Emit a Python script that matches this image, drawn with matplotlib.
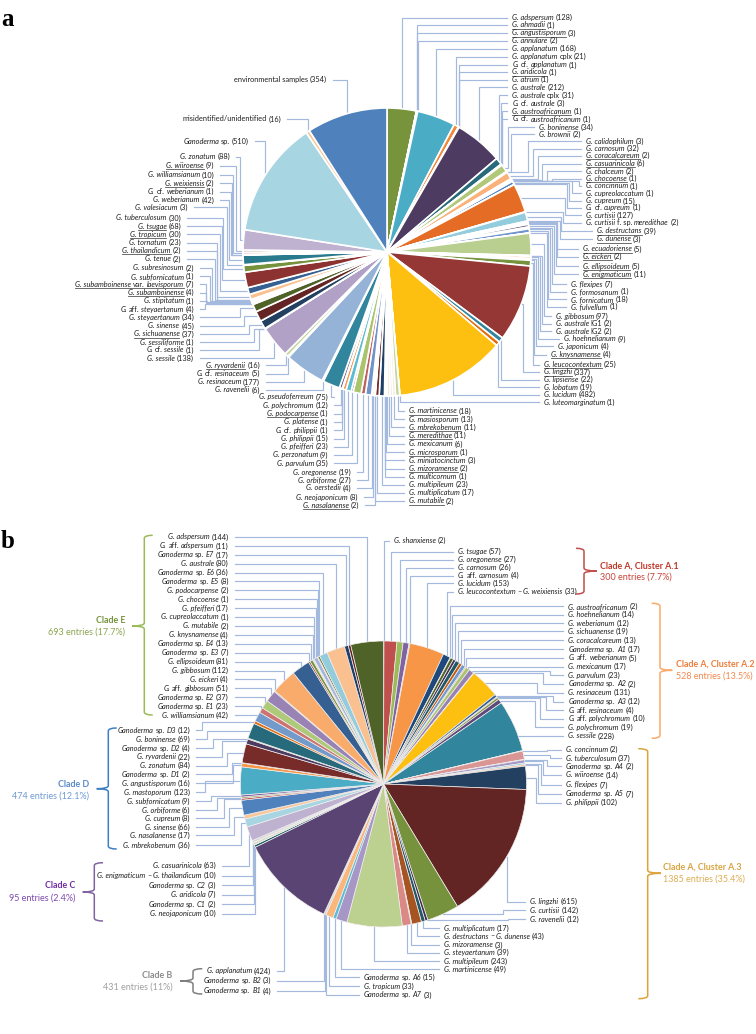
import matplotlib
matplotlib.use("Agg")
import matplotlib.pyplot as plt
import numpy as np
from matplotlib.path import Path
from matplotlib.patches import PathPatch

W, H = 756, 1034
# ---------------- DATA: panel a ----------------
names_a = ["G. adspersum","G. ahmadii","G. angustisporum","G. annulare","G. applanatum","G. applanatum cplx","G. cf. applanatum","G. aridicola","G. atrum","G. australe","G. australe cplx","G. cf. australe","G. austroafricanum","G. cf. austroafricanum",
"G. boninense","G. brownii","G. calidophilum","G. carnosum","G. coracalcareum","G. casuarinicola","G. chalceum","G. chocoense","G. concinnum","G. cupreolaccatum","G. cupreum","G. cf. cupreum","G. curtisii","G. curtisii f. sp. meredithae",
"G. destructans","G. dunense","G. ecuadoriense","G. eickeri","G. ellipsoideum","G. enigmaticum","G. flexipes","G. formosanum","G. fornicatum","G. fulvellum","G. gibbosum","G. australe IG1","G. australe IG2","G. hoehnelianum","G. japonicum","G. knysnamense",
"G. leucocontextum","G. lingzhi","G. lipsiense","G. lobatum","G. lucidum","G. luteomarginatum","G. martinicense","G. masiosporum","G. mbrekobenum","G. meredithae","G. mexicanum","G. microsporum","G. miniatocinctum","G. mizoramense","G. multicornum","G. multipileum","G. multiplicatum","G. mutabile",
"G. nasalanense","G. neojaponicum","G. oerstedii","G. orbiforme","G. oregonense","G. parvulum","G. perzonatum","G. pfeifferi","G. philippii","G. cf. philippii","G. platense","G. podocarpense","G. polychromum","G. pseudoferreum",
"G. ravenelii","G. resinaceum","G. cf. resinaceum","G. ryvardenii","G. sessile","G. cf. sessile","G. sessiliforme","G. sichuanense","G. sinense","G. steyaertanum","G. aff. steyaertanum","G. stipitatum","G. subamboinense","G. subamboinense var. laevisporum","G. subfornicatum","G. subresinosum",
"G. tenue","G. thailandicum","G. tornatum","G. tropicum","G. tsugae","G. tuberculosum","G. valesiacum","G. weberianum","G. cf. weberianum","G. weixiensis","G. williamsianum","G. wiiroense","G. zonatum","Ganoderma sp.","misidentified/unidentified","environmental samples"]
counts_a = [128,1,3,2,168,21,1,1,1,212,31,3,1,1,34,2,3,32,2,6,2,1,1,1,15,1,127,2,39,3,5,2,5,11,7,1,18,1,97,2,2,9,4,4,25,337,22,19,482,1,18,13,11,11,6,1,3,2,1,23,17,2,
2,8,4,27,19,35,9,23,15,1,1,1,12,75,6,177,5,16,138,1,1,37,45,34,4,1,4,7,1,2,2,2,23,30,68,30,3,42,1,2,10,9,88,510,16,354]
underlined_a = {"G. ahmadii","G. angustisporum","G. aridicola","G. austroafricanum","G. coracalcareum","G. casuarinicola","G. chocoense","G. destructans","G. dunense","G. ecuadoriense","G. eickeri","G. ellipsoideum","G. enigmaticum","G. knysnamense","G. leucocontextum","G. lingzhi","G. martinicense","G. mbrekobenum","G. meredithae","G. microsporum","G. mizoramense","G. mutabile","G. nasalanense","G. podocarpense","G. ryvardenii","G. sichuanense","G. subamboinense var. laevisporum","G. subamboinense","G. thailandicum","G. tropicum","G. tsugae","G. weixiensis","G. wiiroense"}
# ---------------- DATA: panel b ----------------
names_b = ["G. shanxiense","G. tsugae","G. oregonense","G. carnosum","G. aff. carnosum","G. lucidum","G. leucocontextum – G. weixiensis",
"G. austroafricanum","G. hoehnelianum","G. weberianum","G. sichuanense","G. coracalcareum","Ganoderma sp. A1","G. aff. weberianum","G. mexicanum","G. parvulum","Ganoderma sp. A2","G. resinaceum","Ganoderma sp. A3","G. aff. resinaceum","G. aff. polychromum","G. polychromum","G. sessile",
"G. concinnum","G. tuberculosum","Ganoderma sp. A4","G. wiiroense","G. flexipes","Ganoderma sp. A5","G. philippii","G. lingzhi","G. curtisii","G. ravenelii","G. multiplicatum","G. destructans – G. dunense","G. mizoramense","G. steyaertanum","G. multipileum","G. martinicense","Ganoderma sp. A6","G. tropicum","Ganoderma sp. A7",
"Ganoderma sp. B1","Ganoderma sp. B2","G. applanatum",
"G. neojaponicum","Ganoderma sp. C1","G. aridicola","Ganoderma sp. C2","G. enigmaticum – G. thailandicum","G. casuarinicola",
"G. mbrekobenum","G. nasalanense","G. sinense","G. cupreum","G. orbiforme","G. subfornicatum","G. mastoporum","G. angustisporum","Ganoderma sp. D1","G. zonatum","G. ryvardenii","Ganoderma sp. D2","G. boninense","Ganoderma sp. D3",
"G. williamsianum","Ganoderma sp. E1","Ganoderma sp. E2","G. aff. gibbosum","G. eickeri","G. gibbosum","G. ellipsoideum","Ganoderma sp. E3","Ganoderma sp. E4","G. knysnamense","G. mutabile","G. cupreolaccatum","G. pfeifferi","G. chocoense","G. podocarpense","Ganoderma sp. E5","Ganoderma sp. E6","G. australe","Ganoderma sp. E7","G. aff. adspersum","G. adspersum"]
counts_b = [2,57,27,26,4,153,33,2,14,12,19,13,17,5,17,23,2,131,12,4,10,19,228,2,37,2,14,7,7,102,615,142,12,17,43,3,39,243,49,15,33,3,4,3,424,10,2,7,3,10,63,36,17,66,8,6,9,123,16,2,84,22,4,69,12,42,23,37,51,4,112,81,7,13,4,2,1,17,1,2,8,36,80,17,11,144]
clade_titles = ["Clade A, Cluster A.1","Clade A, Cluster A.2","Clade A, Cluster A.3","Clade B","Clade C","Clade D","Clade E"]
clade_notes = ["300 entries (7.7%)","528 entries (13.5%)","1385 entries (35.4%)","431 entries (11%)","95 entries (2.4%)","474 entries (12.1%)","693 entries (17.7%)"]

# ---------------- STYLE / LAYOUT ----------------
palette = ["#4f81bd","#c0504d","#9bbb59","#8064a2","#4bacc6","#f79646","#2c4d75","#772c2a","#5f7530","#4d3b62","#276a7c","#b65708"]
colors_a = {"G. adspersum":"#77933c","G. applanatum":"#4bacc6","G. applanatum cplx":"#f0883a","G. australe":"#4d3b62","G. australe cplx":"#276a7c","G. boninense":"#b0c878","G. carnosum":"#fab27a","G. casuarinicola":"#8eb4e3","G. curtisii":"#e46c25","G. destructans":"#93cddd","G. ecuadoriense":"#403152","G. fornicatum":"#7094cd","G. gibbosum":"#b9cf8f","G. leucocontextum":"#76923c","G. lingzhi":"#953735","G. lipsiense":"#31859c","G. lobatum":"#e46c0a","G. lucidum":"#fdc010","G. martinicense":"#c3d69b","G. masiosporum":"#fde9d9","G. mbrekobenum":"#dbe5f1","G. meredithae":"#fcd5b4","G. mexicanum":"#ccc1da","G. multipileum":"#1f3f66","G. multiplicatum":"#772c2a","G. orbiforme":"#7094c9","G. oregonense":"#c0605c","G. parvulum":"#a9c46c","G. perzonatum":"#60497a","G. pfeifferi":"#5dbbd2","G. philippii":"#f79646","G. polychromum":"#60497a","G. pseudoferreum":"#31859c","G. resinaceum":"#95b3d7","G. ryvardenii":"#c3d69b","G. sessile":"#b2a1c7","G. sichuanense":"#244061","G. sinense":"#632423","G. steyaertanum":"#4f6228","G. tornatum":"#fac090","G. tropicum":"#366092","G. tsugae":"#8c3331","G. tuberculosum":"#76923c","G. weberianum":"#2a7a8e","G. williamsianum":"#e6b9b8","G. zonatum":"#bfb1d0","Ganoderma sp.":"#a8d5e2","misidentified/unidentified":"#fac79a","environmental samples":"#4f81bd"}
colors_b = {"G. shanxiense":"#4f81bd","G. tsugae":"#c0504d","G. oregonense":"#9bbb59","G. carnosum":"#8064a2","G. aff. carnosum":"#4bacc6","G. lucidum":"#f79646","G. leucocontextum – G. weixiensis":"#1f497d","G. hoehnelianum":"#4f6228","G. weberianum":"#403152","G. sichuanense":"#215968","G. coracalcareum":"#c55a11","Ganoderma sp. A1":"#6f9bd1","G. aff. weberianum":"#cd7371","G. mexicanum":"#a9c46c","G. parvulum":"#9782b3","G. resinaceum":"#fdbf10","Ganoderma sp. A3":"#366092","G. aff. polychromum":"#76923c","G. polychromum":"#60497a","G. sessile":"#31859c","G. tuberculosum":"#d99694","G. wiiroense":"#a698c4","G. flexipes":"#93cddd","Ganoderma sp. A5":"#fac090","G. philippii":"#244061","G. lingzhi":"#632523","G. curtisii":"#76923c","G. ravenelii":"#403152","G. multiplicatum":"#215968","G. destructans – G. dunense":"#a65422","G. steyaertanum":"#da8987","G. multipileum":"#bcd08f","G. martinicense":"#a697c6","Ganoderma sp. A6":"#5ebdd3","G. tropicum":"#fbb67a","G. applanatum":"#5a4474","G. neojaponicum":"#215968","G. aridicola":"#c3d69b","G. enigmaticum – G. thailandicum":"#d9d9d9","G. casuarinicola":"#bfb1d0","G. mbrekobenum":"#a8d5e2","G. nasalanense":"#fac79a","G. sinense":"#4f81bd","G. cupreum":"#c0504d","G. orbiforme":"#76923c","G. subfornicatum":"#8064a2","G. mastoporum":"#4bacc6","G. angustisporum":"#f79646","G. zonatum":"#772c2a","G. ryvardenii":"#4d3b62","G. boninense":"#276a7c","Ganoderma sp. D3":"#e46c0a","G. williamsianum":"#729aca","Ganoderma sp. E1":"#cd7371","Ganoderma sp. E2":"#afc97a","G. aff. gibbosum":"#9983b5","G. gibbosum":"#f9ab6b","G. ellipsoideum":"#366092","Ganoderma sp. E3":"#953735","Ganoderma sp. E4":"#76923c","G. pfeifferi":"#a4b6db","Ganoderma sp. E6":"#93cddd","G. australe":"#fac090","Ganoderma sp. E7":"#1f3f66","G. aff. adspersum":"#632423","G. adspersum":"#4f6228"}

label_x_a = [512.3]*14+[539]*2+[586]*12+[597.3]*2+[583.3]*4+[571.3]*4+[555.7]*3+[564,558.3,551]+[544]*6+[409]*12+[359,358]+[351.3]*3+[328.3]*9+[260]*4+[194]*12+[181]*6+[188]+[214.3]*5+[230,249,281,327]
label_y_a = [17.5,25,33,40.7,48.7,56.7,65,72,79.7,87.3,95.3,103.3,111,119,127.3,134.3,141.3,148.7,155.7,163.7,171.3,178.7,186,193.3,201,207.7,215.3,222.7,231,239,249,256.7,266.3,274.3,284.3,291.7,299.3,306.7,316.3,323.7,331.3,339,346.3,354.7,364.7,372,379.7,387.3,394.7,402.3,411,419.3,427.3,435.7,444,452.3,460.3,468.7,476.7,484.7,492.7,501,
505.3,497.3,488,480,472.3,463.3,455,446.7,438.7,430.3,422,413.7,405.3,397,390,382,373.7,365.3,358.3,350,342,334,326,317.3,309.3,301,292.7,284.3,276.3,268,259,250.7,242.7,234.3,226.3,218,207.3,200,191.7,183.3,175,165.7,156.7,141.3,119,79.7]
side_a = ["l"]*62+["r"]*46
elbow_a = {"G. boninense":508,"G. brownii":510.7,"G. calidophilum":528,"G. carnosum":533,"G. coracalcareum":537.5,"G. casuarinicola":542,"G. chalceum":547,"G. chocoense":551.5,"G. concinnum":579,"G. cupreolaccatum":572,"G. cupreum":569,"G. cf. cupreum":567,"G. curtisii":565,"G. curtisii f. sp. meredithae":562.7,"G. destructans":561,"G. dunense":560,"G. ecuadoriense":557.3,"G. eickeri":556.7,"G. ellipsoideum":555.7,"G. enigmaticum":554,"G. flexipes":552.3,"G. formosanum":550.3,"G. fornicatum":548.3,"G. fulvellum":546.7,"G. gibbosum":544.3,"G. australe IG1":542,"G. australe IG2":540.3,"G. hoehnelianum":538.3,"G. japonicum":536,"G. knysnamense":534,"G. leucocontextum":533.3,"G. lingzhi":522.7,
"G. cf. sessile":259,"G. sessiliforme":254,"G. sichuanense":249,"G. sinense":244,"G. steyaertanum":240,"G. aff. steyaertanum":205,"G. stipitatum":207,"G. subamboinense":206,"G. subamboinense var. laevisporum":205.5,"G. subfornicatum":210,"G. subresinosum":212,"G. tenue":215,"G. thailandicum":216.7,"G. tornatum":217,"G. tropicum":219.7,"G. tsugae":221.7,"G. tuberculosum":223,"G. valesiacum":226.7,"G. weberianum":228.7,"G. cf. weberianum":230.7,"G. weixiensis":232,"G. williamsianum":233,"G. wiiroense":235.7,"G. zonatum":240}

label_x_b = [394.3]+[458]*6+[568.3]*16+[566]*7+[530.3]*3+[444]*6+[364]*3+[271.3]*3+[216]*6+[190.3]*14+[228.7]*21
label_y_b = [540.7,551.7,559.7,567.7,575.7,583.3,591.7,606.3,614.7,623.3,631.3,640.3,649.3,658,666.7,675.3,684,692.7,701.7,710.3,718.7,727.3,736,749.7,758.3,766.3,775,785,794,802.7,901.7,910.3,919.3,928.3,936.3,945,952.7,961.3,969.3,977.3,986.3,995,991,980.7,971,913.7,904.3,894.7,885.3,875.7,865.7,
845.3,835.3,827.3,818.3,810,801,792.3,783.3,774.3,765.7,757,748.3,739.3,730.3,715.3,706.3,697.3,688.3,679.3,670.7,661.7,652.7,643.7,635,626,617,608.3,599.3,590.3,581.3,572.7,563.7,555,546,537]
side_b = ["l"]*42+["r"]*44
elbow_b = {"G. parvulum":550,"Ganoderma sp. A2":543.3,"G. resinaceum":537.3,"Ganoderma sp. A3":553.3,"G. aff. resinaceum":545.7,"G. aff. polychromum":540.3,"G. polychromum":535,"G. concinnum":546.7,"G. tuberculosum":550,"Ganoderma sp. A4":546.7,"G. wiiroense":543.3,"G. flexipes":541,"Ganoderma sp. A5":538,"G. philippii":535.7,"G. curtisii":502.7,"G. ravenelii":507.7,"Ganoderma sp. D3":202,"G. boninense":206.7,"Ganoderma sp. D2":212.7,"G. ryvardenii":222,"G. zonatum":227,"Ganoderma sp. D1":232,"G. angustisporum":232.7,"G. mastoporum":205,"G. subfornicatum":210.7,"G. orbiforme":217,"G. cupreum":224,"G. sinense":229,"G. nasalanense":234,"G. mbrekobenum":240.7}

FS = 5.35
INK = "#1f1f1f"
ROMAN = {"cf.","aff.","sp.","cplx","var.","f.","IG1","IG2","–","misidentified/unidentified","environmental","samples"}

fig = plt.figure(figsize=(W/100, H/100), dpi=100)
ax = fig.add_axes([0, 0, 1, 1])
renderer = fig.canvas.get_renderer()
Y = lambda p: H - p

def segments(name):
    out = []
    for w in name.split():
        it = w not in ROMAN
        if out and out[-1][1] == it:
            out[-1][0] += " " + w
        else:
            out.append([w, it])
    return out

def draw_label(x, yc, name, count, side, underline=False):
    segs = segments(name) + [[f"({count})", False]]
    gap = FS * 100 / 72 * 0.24
    arts = []
    for s, it in segs:
        arts.append(ax.text(0, Y(yc + 2.4), s, fontsize=FS, family="Lato", style="italic" if it else "normal",
                            color=INK, ha="left", va="baseline", zorder=5))
    ws = [a.get_window_extent(renderer).width for a in arts]
    total = sum(ws) + gap * (len(ws) - 1)
    cur = x if side == "l" else x - total
    start = cur
    name_end = cur
    for i, (a, w) in enumerate(zip(arts, ws)):
        a.set_x(cur)
        cur += w
        if i < len(arts) - 1:
            name_end = cur
        cur += gap
    if underline:
        ax.plot([start, name_end], [Y(yc + 3.6)] * 2, color="#555555", lw=0.6, zorder=5)
    return start, start + total

def draw_pie(names, counts, cmap, cx, cy, R, explode, edge, elw):
    cols = [cmap.get(n, palette[i % len(palette)]) for i, n in enumerate(names)]
    wedges, _ = ax.pie(counts, colors=cols, startangle=90, counterclock=False, radius=R,
                       center=(cx, Y(cy)), explode=[explode] * len(counts), frame=True,
                       wedgeprops=dict(edgecolor=edge, linewidth=elw))
    for w in wedges:
        w.set_zorder(3)
    return wedges

def draw_leaders(wedges, names, counts, xs, ys, sides, elbows, cx, cy, R, under=frozenset()):
    assert len(names) == len(counts) == len(xs) == len(ys) == len(sides)
    for w, n, c, x, y, s in zip(wedges, names, counts, xs, ys, sides):
        a = np.deg2rad((w.theta1 + w.theta2) / 2)
        px, py = cx + R * np.cos(a), cy - R * np.sin(a)
        left, right = draw_label(x, y, n, c, s, n in under)
        sx = left - 5 if s == "l" else right + 6
        ex = elbows.get(n)
        if ex is None:
            path = [(sx, y), (px, y), (px, py)]
        else:
            path = [(sx, y), (ex, y), (ex, py), (px, py)]
        xx, yy = zip(*path)
        ax.plot(xx, [Y(v) for v in yy], color="#a3b9dd", lw=0.85, zorder=1, solid_joinstyle="miter")

def bracket(x_open, x_spine, y0, y1, ym, x_tip, color):
    t = 3.0
    verts = [(x_open, y0), (x_spine, y0), (x_spine, y0 + t), (x_spine, ym - t), (x_spine, ym), (x_tip, ym)]
    codes = [Path.MOVETO, Path.CURVE3, Path.CURVE3, Path.LINETO, Path.CURVE3, Path.CURVE3]
    verts += [(x_spine, ym), (x_spine, ym + t), (x_spine, y1 - t), (x_spine, y1), (x_open, y1)]
    codes += [Path.CURVE3, Path.CURVE3, Path.LINETO, Path.CURVE3, Path.CURVE3]
    verts = [(vx, Y(vy)) for vx, vy in verts]
    ax.add_patch(PathPatch(Path(verts, codes), fill=False, edgecolor=color, lw=1.1, zorder=4))

# panel a
CXA, CYA, RA = 387, 252, 144
wa = draw_pie(names_a, counts_a, colors_a, CXA, CYA, RA, 0.012, "white", 1.2)
draw_leaders(wa, names_a, counts_a, label_x_a, label_y_a, side_a, elbow_a, CXA, CYA, RA, underlined_a)

# panel b
CXB, CYB, RB = 383.5, 784, 143
wb = draw_pie(names_b, counts_b, colors_b, CXB, CYB, RB, 0.0, "#f0eeee", 0.5)
draw_leaders(wb, names_b, counts_b, label_x_b, label_y_b, side_b, elbow_b, CXB, CYB, RB)

# clades
clade_x = [600, 675.7, 662.7, 172.3, 75.7, 89, 125]
clade_y1 = [565.7, 664.3, 867.3, 975.7, 886, 784.7, 620.3]
clade_y2 = [577, 676, 879, 987.3, 897.7, 796, 631.7]
clade_ha = ["left", "left", "left", "right", "right", "right", "right"]
clade_c1 = ["#c0392b", "#ef7d3c", "#d9a441", "#8c8c8c", "#7030a0", "#5b8bc9", "#76923c"]
clade_c2 = ["#c8453a", "#f0894e", "#dcae55", "#a0a0a0", "#7f4ab0", "#6f9bd1", "#8aa650"]
for t, n, x, y1, y2, ha, c1, c2 in zip(clade_titles, clade_notes, clade_x, clade_y1, clade_y2, clade_ha, clade_c1, clade_c2):
    ax.text(x, Y(y1), t, fontsize=6.4, family="Lato", weight="bold", color=c1, ha=ha, va="center")
    ax.text(x, Y(y2), n, fontsize=6.5, family="Lato", color=c2, ha=ha, va="center")

bracket(576, 584, 548.3, 594, 571, 597, "#c0504d")
bracket(651.7, 660, 603.3, 738.3, 670.3, 672.3, "#f9ab6b")
bracket(638.3, 647.7, 748.7, 998.7, 873.3, 661, "#dba33a")
bracket(202.3, 193, 968.7, 994, 981, 180, "#7f7f7f")
bracket(103, 94.3, 862.7, 921, 892, 82.7, "#8064a2")
bracket(116.7, 108.3, 728, 849, 788.7, 96.7, "#3f7fc4")
bracket(152.7, 144.3, 535.3, 715, 626, 132, "#9bbb59")

ax.text(1, Y(26), "a", fontsize=18, family="Liberation Serif", weight="bold", color="black", ha="left", va="baseline")
ax.text(1, Y(548), "b", fontsize=18, family="Liberation Serif", weight="bold", color="black", ha="left", va="baseline")

ax.set_xlim(0, W)
ax.set_ylim(0, H)
ax.axis("off")
fig.savefig("out.png", dpi=100)
